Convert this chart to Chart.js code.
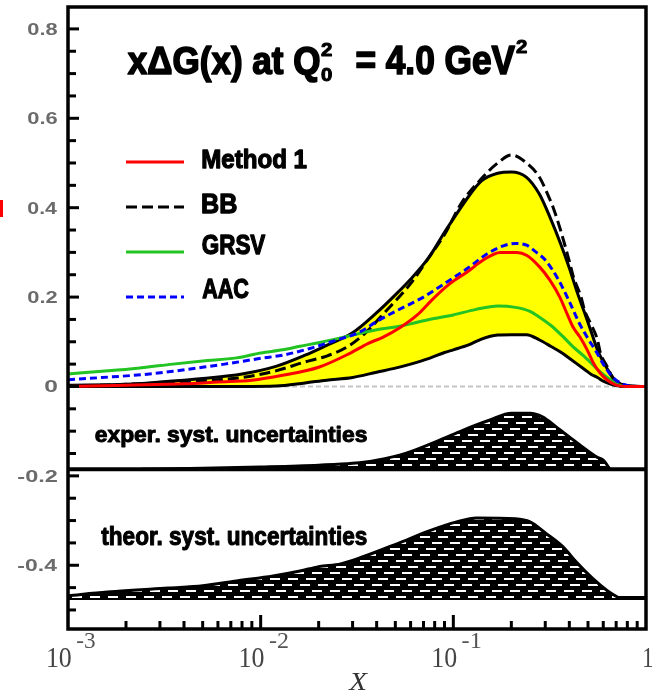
<!DOCTYPE html>
<html>
<head>
<meta charset="utf-8">
<script src="https://cdn.jsdelivr.net/npm/chart.js@4.4.1/dist/chart.umd.min.js"></script>
<style>
html,body{margin:0;padding:0;background:#fff;}
#wrap{width:661px;height:690px;position:relative;}
</style>
</head>
<body>
<div id="wrap"><canvas id="c" width="661" height="690"></canvas></div>
<script>
// ---------- data ----------
const xBand    = [0.001,0.002,0.003,0.005,0.008,0.012,0.017,0.022,0.03,0.04,0.05,0.06,0.075,0.09,0.1,0.12,0.14,0.17,0.2,0.24,0.28,0.32,0.36,0.4,0.44,0.48,0.52,0.56,0.6,0.65,0.7,0.8,1];
const bandHigh = [0.003,0.005,0.01,0.018,0.028,0.045,0.07,0.092,0.12,0.165,0.205,0.24,0.29,0.345,0.375,0.425,0.46,0.477,0.48,0.468,0.43,0.375,0.32,0.265,0.21,0.165,0.122,0.082,0.055,0.03,0.012,0.002,0];
const bandLow  = [0,0,0,0,0,0.001,0.008,0.014,0.02,0.032,0.041,0.05,0.063,0.076,0.082,0.093,0.106,0.115,0.116,0.116,0.104,0.09,0.077,0.063,0.05,0.038,0.027,0.02,0.012,0.006,0.002,0,0];

const xMethod1 = [0.001,0.002,0.004,0.006,0.009,0.013,0.02,0.029,0.036,0.043,0.053,0.065,0.078,0.096,0.118,0.143,0.175,0.214,0.241,0.281,0.317,0.357,0.388,0.418,0.455,0.495,0.534,0.578,0.627,0.7,0.8,1];
const method1  = [0,0.003,0.006,0.01,0.014,0.025,0.043,0.074,0.096,0.11,0.132,0.16,0.195,0.23,0.256,0.283,0.30,0.30,0.293,0.267,0.238,0.20,0.164,0.133,0.11,0.082,0.052,0.03,0.015,0.003,0,0];

const xBB = [0.001,0.003,0.005,0.008,0.012,0.017,0.022,0.028,0.035,0.045,0.06,0.075,0.09,0.11,0.14,0.17,0.2,0.24,0.28,0.31,0.33,0.36,0.4,0.42,0.46,0.48,0.52,0.56,0.58,0.63,0.68,0.75,1];
const bb  = [0,0.008,0.013,0.02,0.035,0.055,0.068,0.088,0.12,0.17,0.23,0.29,0.34,0.41,0.465,0.50,0.518,0.50,0.468,0.428,0.40,0.35,0.28,0.245,0.20,0.17,0.138,0.104,0.075,0.044,0.015,0,0];

const xGRSV = [0.001,0.0015,0.0023,0.0035,0.005,0.0075,0.01,0.013,0.016,0.02,0.025,0.03,0.04,0.05,0.06,0.075,0.1,0.13,0.17,0.21,0.25,0.28,0.32,0.37,0.42,0.47,0.52,0.57,0.63,0.7,0.8,1];
const grsv  = [0.028,0.034,0.041,0.05,0.057,0.064,0.075,0.082,0.09,0.098,0.107,0.115,0.127,0.133,0.14,0.15,0.16,0.172,0.18,0.177,0.168,0.155,0.137,0.112,0.088,0.07,0.052,0.035,0.02,0.006,0,0];

const xAAC = [0.001,0.0015,0.0025,0.0035,0.005,0.0065,0.0085,0.01,0.013,0.018,0.024,0.032,0.041,0.05,0.06,0.07,0.085,0.1,0.12,0.15,0.18,0.21,0.24,0.27,0.3,0.35,0.4,0.45,0.5,0.55,0.6,0.65,0.7,0.8,1];
const aac  = [0.015,0.02,0.027,0.034,0.043,0.05,0.058,0.063,0.07,0.085,0.102,0.12,0.148,0.168,0.185,0.2,0.223,0.243,0.266,0.297,0.314,0.32,0.316,0.30,0.283,0.24,0.19,0.142,0.107,0.079,0.05,0.028,0.014,0.002,0];

const experBase = -0.185;
const xExper  = [0.0024,0.005,0.01,0.02,0.03,0.04,0.057,0.085,0.112,0.155,0.2,0.25,0.29,0.343,0.4,0.47,0.556,0.6,0.65];
const experTop = [-0.185,-0.183,-0.18,-0.176,-0.172,-0.165,-0.149,-0.12,-0.098,-0.075,-0.06,-0.06,-0.068,-0.091,-0.113,-0.136,-0.158,-0.165,-0.185];

const theorBase = -0.473;
const xTheor   = [0.001,0.0016,0.0033,0.005,0.0075,0.0116,0.016,0.02,0.026,0.034,0.051,0.075,0.104,0.132,0.21,0.25,0.305,0.371,0.435,0.53,0.63,0.72];
const theorTop = [-0.468,-0.46,-0.451,-0.446,-0.435,-0.424,-0.413,-0.403,-0.397,-0.381,-0.352,-0.323,-0.303,-0.294,-0.296,-0.303,-0.33,-0.359,-0.393,-0.43,-0.457,-0.473];

const yTickLabels = ['0.8','0.6','0.4','0.2','0','-0.2','-0.4'];
const yTickValues = [0.8,0.6,0.4,0.2,0,-0.2,-0.4];
const xTickValues = [0.001,0.01,0.1,1];
const xTickExps   = ['-3','-2','-1',null];
const seriesNames = ['Method 1','BB','GRSV','AAC'];

// ---------- helpers ----------
const pts = (xs, ys) => xs.map((x,i)=>({x:x,y:ys[i]}));
const canvas = document.getElementById('c');
const mainCtx = canvas.getContext('2d');

function makeHatch(){
  const c = document.createElement('canvas'); c.width = 18; c.height = 18;
  const g = c.getContext('2d');
  g.fillStyle = '#000'; g.fillRect(0,0,18,18);
  g.fillStyle = '#fff';
  for (let r=0; r<3; r++){
    const y = 2 + r*6, off = (18 - r*6) % 18;
    g.fillRect(off, y, 10, 2);
    if (off + 10 > 18) g.fillRect(off - 18, y, 10, 2);
  }
  return mainCtx.createPattern(c, 'repeat');
}
const hatch = makeHatch();

// draws text so that its ink box is w wide and h tall above the baseline
function drawFit(ctx, text, x, baseline, w, h, font, align, color, strokeW){
  ctx.save();
  ctx.font = font;
  ctx.textAlign = 'left'; ctx.textBaseline = 'alphabetic';
  const m = ctx.measureText(text);
  const W = m.actualBoundingBoxRight + m.actualBoundingBoxLeft;
  const H = m.actualBoundingBoxAscent;
  const sw = strokeW || 0;
  const left = align === 'right' ? x - w : (align === 'center' ? x - w/2 : x);
  const sx = (w - sw) / W, sy = (h - sw/2) / H;
  ctx.translate(left + sw/2, baseline);
  ctx.scale(sx, sy);
  ctx.fillStyle = color || '#000';
  ctx.fillText(text, m.actualBoundingBoxLeft, 0);
  if (sw > 0){
    ctx.strokeStyle = color || '#000';
    ctx.lineJoin = 'round';
    ctx.lineWidth = sw / ((sx + sy) / 2);
    ctx.strokeText(text, m.actualBoundingBoxLeft, 0);
  }
  ctx.restore();
}

const SANS_B = 'bold 100px "Liberation Sans"';
const SERIF  = '100px "Liberation Serif"';
const SERIF_I = 'italic 100px "Liberation Serif"';
const RED = '#ff0000', GREEN = '#22c322', BLUE = '#0000ff';
const BB_DASH = [11,5], AAC_DASH = [7,4];

const decor = {
  id: 'decor',
  afterDraw(chart){
    const ctx = chart.ctx, a = chart.chartArea;
    const xs = chart.scales.x, ys = chart.scales.y;
    ctx.save();
    // frame
    ctx.strokeStyle = '#000'; ctx.lineWidth = 3.5;
    ctx.strokeRect(a.left, a.top, a.right - a.left, a.bottom - a.top);
    // y ticks (inward)
    ctx.lineWidth = 3;
    for (let k = -10; k <= 16; k++){
      const v = k * 0.05;
      const py = ys.getPixelForValue(v);
      if (py < a.top + 2 || py > a.bottom - 2) continue;
      const major = (k % 4 === 0);
      ctx.beginPath(); ctx.moveTo(a.left, py); ctx.lineTo(a.left + (major ? 11 : 8), py); ctx.stroke();
    }
    // x ticks (inward)
    for (let d = -3; d <= 0; d++){
      for (let m = 1; m <= 9; m++){
        const v = m * Math.pow(10, d);
        if (v > 1.0001) break;
        const px = xs.getPixelForValue(v);
        if (px <= a.left + 1 || px >= a.right - 1) continue;
        ctx.beginPath(); ctx.moveTo(px, a.bottom); ctx.lineTo(px, a.bottom - (m === 1 ? 14 : 8)); ctx.stroke();
      }
    }
    // y tick labels
    yTickValues.forEach((v,i)=>{
      const t = yTickLabels[i];
      const py = ys.getPixelForValue(v);
      const w = t.length === 1 ? 12 : (t.length === 3 ? 29 : 39);
      drawFit(ctx, t, 57, py + 6, w, 12, SANS_B, 'right', '#6b6b6b');
    });
    // x tick labels
    xTickValues.forEach((v,i)=>{
      const px = xs.getPixelForValue(v);
      if (xTickExps[i] === null){
        drawFit(ctx, '1', px + 2, 667, 8, 20, SERIF, 'center', '#444');
      } else {
        drawFit(ctx, '10', px + 3, 667, 23, 20, SERIF, 'right', '#444');
        drawFit(ctx, xTickExps[i], px + 9, 648, 18, 15, SERIF, 'left', '#555');
      }
    });
    // x axis title
    drawFit(ctx, 'X', 358, 690, 20, 17, SERIF_I, 'center', '#333');

    // title
    drawFit(ctx, 'xΔG(x) at Q', 127, 74, 193, 29, SANS_B, 'left', '#000', 1.6);
    drawFit(ctx, '2', 321, 56, 11, 13, SANS_B, 'left', '#000', 1);
    drawFit(ctx, '0', 321, 81, 11, 13, SANS_B, 'left', '#000', 1);
    drawFit(ctx, '= 4.0 GeV', 356, 74, 160, 29, SANS_B, 'left', '#000', 1.6);
    drawFit(ctx, '2', 516, 53, 11, 13, SANS_B, 'left', '#000', 1);

    // legend
    const leg = [
      {c:RED,   dash:[],       ly:162, tb:168, w:105},
      {c:'#000',dash:BB_DASH,  ly:207, tb:213, w:35},
      {c:GREEN, dash:[],       ly:252, tb:254, w:64},
      {c:BLUE,  dash:AAC_DASH, ly:297, tb:298, w:47}
    ];
    leg.forEach((L,i)=>{
      ctx.save();
      ctx.strokeStyle = L.c; ctx.lineWidth = 3; ctx.setLineDash(L.dash);
      ctx.beginPath(); ctx.moveTo(126, L.ly); ctx.lineTo(184, L.ly); ctx.stroke();
      ctx.restore();
      drawFit(ctx, seriesNames[i], 202, L.tb, L.w, 20, SANS_B, 'left', '#000', 1.2);
    });

    // band labels
    drawFit(ctx, 'exper. syst. uncertainties', 95, 442, 272, 16, SANS_B, 'left', '#000', 1);
    drawFit(ctx, 'theor. syst. uncertainties', 101, 545, 266, 19, SANS_B, 'left', '#000', 1);

    // small red mark at left edge
    ctx.fillStyle = RED; ctx.fillRect(0, 200, 3, 17);
    ctx.restore();
  }
};

const lineBase = {pointRadius:0, pointHoverRadius:0, fill:false, cubicInterpolationMode:'monotone', borderWidth:3};

new Chart(mainCtx, {
  type: 'line',
  data: {
    datasets: [
      Object.assign({}, lineBase, {label:'Method 1', data: pts(xMethod1, method1), borderColor: RED}),
      Object.assign({}, lineBase, {label:'AAC', data: pts(xAAC, aac), borderColor: BLUE, borderDash: AAC_DASH}),
      Object.assign({}, lineBase, {label:'GRSV', data: pts(xGRSV, grsv), borderColor: GREEN}),
      Object.assign({}, lineBase, {label:'BB', data: pts(xBB, bb), borderColor: '#000', borderDash: BB_DASH}),
      Object.assign({}, lineBase, {label:'band low', data: pts(xBand, bandLow), borderColor: '#000'}),
      Object.assign({}, lineBase, {label:'band high', data: pts(xBand, bandHigh), borderColor: '#000', fill: {target: 4}, backgroundColor: '#ffff00'}),
      Object.assign({}, lineBase, {label:'exper', data: pts(xExper, experTop), borderColor: '#000', fill: {value: experBase}, backgroundColor: hatch}),
      Object.assign({}, lineBase, {label:'theor', data: pts(xTheor, theorTop), borderColor: '#000', fill: {value: theorBase}, backgroundColor: hatch}),
      Object.assign({}, lineBase, {label:'exper base', data: pts([0.001,1],[experBase,experBase]), borderColor: '#000', borderWidth: 4}),
      Object.assign({}, lineBase, {label:'theor base', data: pts([0.001,1],[theorBase,theorBase]), borderColor: '#000', borderWidth: 4}),
      Object.assign({}, lineBase, {label:'zero', data: pts([0.001,1],[0,0]), borderColor: '#c4c4c4', borderWidth: 2, borderDash:[5,3]})
    ]
  },
  options: {
    responsive: false,
    animation: false,
    layout: {padding: {left:68, top:7, right:15, bottom:61}},
    plugins: {legend:{display:false}, tooltip:{enabled:false}, title:{display:false}},
    scales: {
      x: {type:'logarithmic', min:0.001, max:1, display:false},
      y: {type:'linear', min:-0.5426, max:0.849, display:false}
    }
  },
  plugins: [decor]
});
</script>
</body>
</html>
